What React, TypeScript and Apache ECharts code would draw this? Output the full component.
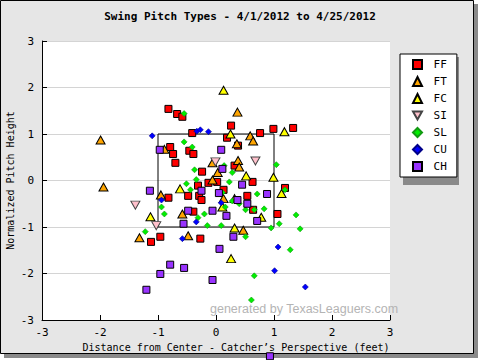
import React, { useEffect, useRef } from "react";
import * as echarts from "echarts";

const title = "Swing Pitch Types - 4/1/2012 to 4/25/2012";
const xName = "Distance from Center - Catcher\u2019s Perspective (feet)";
const yName = "Normalized Pitch Height";
const pitchTypes = ["FF", "FT", "FC", "SI", "SL", "CU", "CH"];

const ffData = [
  [-0.82, 1.54], [-0.67, 1.43], [-0.58, 1.37], [-0.41, 1.02], [-0.79, 0.72], [-0.46, 0.64],
  [-0.39, 0.57], [-0.74, 0.57], [-0.7, 0.38], [-0.24, 0.19], [-0.13, -0.05], [0.02, -0.03],
  [-0.31, -0.11], [-0.82, -0.37], [-0.48, -0.33], [-0.29, -0.33], [-0.25, -0.42], [-0.39, -0.67],
  [-0.96, -1.21], [-1.12, -1.32], [-0.27, -1.25], [0.26, 1.18], [0.99, 1.11], [1.33, 1.13],
  [0.19, 0.92], [0.76, 1.02], [0.38, 0.75], [0.32, 0.32], [0.63, -0.03], [0.13, -0.2],
  [0.54, -0.33], [1.19, -0.16], [1.06, -0.72], [0.64, -0.63],
];
const ftData = [
  [-1.99, 0.87], [-0.89, 0.67], [-0.06, 0.38], [0.03, 0.17], [-0.06, 0.01], [-1.94, -0.14],
  [-0.95, -0.31], [-0.58, -0.72], [-1.32, -1.23], [-0.48, -1.19], [0.37, 1.47], [0.59, 0.96],
  [0.64, 0.85], [0.36, 0.79], [0.38, 0.43], [0.4, 0.29], [0.13, -0.39], [0.47, -1.07],
];
const fcData = [
  [0.13, 1.94], [1.18, 1.05], [0.25, 1.0], [0.52, 0.1], [0.99, 0.07], [-0.62, -0.18],
  [0.32, -0.39], [1.13, -0.28], [0.11, -0.57], [0.78, -0.79], [-1.13, -0.78], [0.32, -1.02],
  [0.26, -1.68],
];
const siData = [[-0.01, 0.4], [0.68, 0.42], [-1.39, -0.53], [-1.03, -0.97]];
const slData = [
  [-0.55, 1.44], [-0.55, 0.83], [-0.41, 0.72], [-0.37, 0.23], [-0.34, 0.02], [-0.51, -0.07],
  [-0.44, -0.2], [-0.94, -0.57], [-0.89, -0.72], [-0.2, -0.72], [-0.31, -0.8], [-0.15, -0.97],
  [-1.22, -1.1], [0.14, 0.32], [0.28, 0.17], [1.04, 0.34], [0.23, -0.03], [0.28, -0.44],
  [0.71, -0.29], [1.19, -0.2], [1.38, -0.74], [0.16, -0.57], [0.4, -0.5], [0.51, -0.63],
  [0.83, -0.61], [1.09, -0.93], [0.95, -1.02], [1.45, -1.04], [0.51, -1.21], [0.09, -0.97],
  [1.28, -1.49], [0.66, -2.05], [0.61, -2.57], [0.11, -0.26], [0.66, -0.63],
];
const cuData = [
  [-1.1, 0.96], [-0.33, 1.06], [-0.27, 1.09], [-0.13, 1.05], [-0.94, -0.42], [-0.34, -0.89],
  [-0.58, -1.25], [0.09, -0.48], [1.07, -1.43], [1.01, -1.94], [1.54, -2.29],
];
const chData = [
  [-0.97, 0.66], [-1.14, -0.22], [-0.25, -0.22], [0.05, -0.27], [-0.48, -0.65], [-0.06, -0.65],
  [-0.56, -0.93], [0.06, -1.47], [-0.79, -1.81], [-0.55, -1.88], [-0.96, -2.01], [-0.06, -2.14],
  [-1.2, -2.35], [0.09, 0.66], [0.11, 0.25], [0.45, -0.09], [0.37, -0.42], [0.88, -0.29],
  [0.54, -0.5], [0.18, -0.76], [0.71, -0.87], [0.3, -1.21], [0.93, -3.78],
];
const zoneX = [-1, 1];
const zoneY = [-1, 1];

const mono = "DejaVu Sans Mono";
const invTriangle = "path://M0,0 L10,0 L5,9 Z";

export default function App() {
  const ref = useRef<HTMLDivElement>(null);
  useEffect(() => {
    if (!ref.current) return;
    const chart = echarts.init(ref.current, undefined, { renderer: "svg" });
    const mk = (name: string, data: number[][], symbol: string, size: any, color: string, border: string, bw: number) => ({
      name,
      type: "scatter",
      data,
      symbol,
      symbolSize: size,
      clip: false,
      itemStyle: { color, borderColor: border, borderWidth: bw, opacity: 1 },
      z: 3,
    });
    const zone = [
      [zoneX[0], zoneY[0]], [zoneX[1], zoneY[0]], [zoneX[1], zoneY[1]], [zoneX[0], zoneY[1]], [zoneX[0], zoneY[0]],
    ];
    chart.setOption({
      animation: false,
      backgroundColor: "#ffffff",
      title: {
        text: title,
        left: "center",
        top: 6,
        textStyle: { fontFamily: mono, fontSize: 11, fontWeight: "bold", color: "#000" },
      },
      grid: {
        left: 42, right: 90, top: 41, bottom: 40,
        show: true, backgroundColor: "#ffffff", borderWidth: 0,
        containLabel: false,
        outerBoundsMode: "none",
      },
      xAxis: {
        type: "value", min: -3, max: 3, interval: 1,
        axisLine: { show: true, onZero: false, lineStyle: { color: "#000", width: 1 } },
        axisTick: { show: true, inside: true, length: 5, lineStyle: { color: "#000" } },
        axisLabel: { color: "#000", fontFamily: mono, fontSize: 11, margin: 7 },
        splitLine: { show: false },
        name: xName, nameLocation: "middle", nameGap: 22, nameMoveOverlap: false,
        nameTextStyle: { fontFamily: mono, fontSize: 10, color: "#000", padding: [0, 0, 0, 40] },
      },
      yAxis: {
        type: "value", min: -3, max: 3, interval: 1,
        axisLine: { show: true, onZero: false, lineStyle: { color: "#000", width: 1 } },
        axisTick: { show: true, inside: true, length: 5, lineStyle: { color: "#000" } },
        axisLabel: { color: "#000", fontFamily: mono, fontSize: 11, margin: 8 },
        splitLine: { show: true, lineStyle: { color: "#d4d4d4", width: 1 } },
        name: yName, nameLocation: "middle", nameGap: 27, nameMoveOverlap: false,
        nameTextStyle: { fontFamily: mono, fontSize: 10, color: "#000" },
      },
      legend: {
        data: pitchTypes.map((n) => (n === "SI" ? { name: n, icon: invTriangle } : { name: n })),
        orient: "vertical",
        left: 400, top: 54,
        padding: [5, 10, 5, 12],
        itemGap: 6,
        itemWidth: 9, itemHeight: 9,
        backgroundColor: "#ffffff",
        borderColor: "#000", borderWidth: 1,
        formatter: (n: string) => " " + n,
        textStyle: { fontFamily: mono, fontSize: 11, color: "#000" },
        z: 5,
      },
      graphic: [
        { type: "rect", z: -10, shape: { x: 4, y: 4, width: 474, height: 354 }, style: { fill: "#8a8a8a" }, silent: true },
        { type: "rect", z: -9, shape: { x: 0.5, y: 0.5, width: 473, height: 353 }, style: { fill: "#e6e6e6", stroke: "#000", lineWidth: 1 }, silent: true },
        { type: "rect", z: 4, shape: { x: 403, y: 57, width: 56, height: 128 }, style: { fill: "#8a8a8a" }, silent: true },
        { type: "text", z: 1, x: 210, y: 302, style: { text: "generated by TexasLeaguers.com", fill: "#b4b4b4", font: "12.5px 'Liberation Sans'" }, silent: true },
      ],
      series: [
        {
          type: "line", data: zone, symbol: "none", silent: true, z: 2,
          lineStyle: { color: "#000", width: 1 }, legendHoverLink: false,
        },
        mk("FF", ffData, "rect", 7, "#ff0000", "#000", 1),
        mk("FT", ftData, "triangle", [9, 8], "#ffa500", "#000", 1),
        mk("FC", fcData, "triangle", [9, 8], "#ffff00", "#000", 1),
        mk("SI", siData, invTriangle, [9, 8], "#ffc0cb", "#444", 1),
        mk("SL", slData, "diamond", 6, "#00ee00", "#119911", 0.6),
        mk("CU", cuData, "diamond", 6, "#0000ff", "#000088", 0.6),
        mk("CH", chData, "rect", 7, "#9933ff", "#000", 1),
      ],
    });
    return () => chart.dispose();
  }, []);
  return <div ref={ref} style={{ position: "absolute", left: 0, top: 0, width: 480, height: 360 }} />;
}
